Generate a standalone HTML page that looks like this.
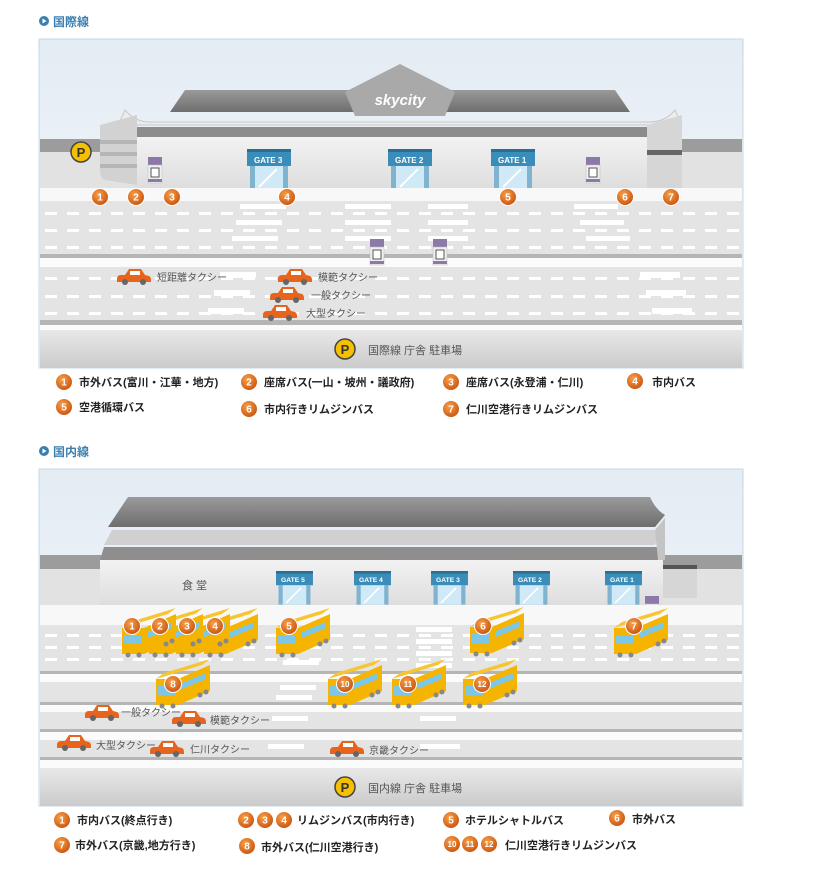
<!DOCTYPE html>
<html><head><meta charset="utf-8"><style>
html,body{margin:0;padding:0;background:#fff;}
svg{display:block;font-family:"Liberation Sans","Noto Sans CJK JP",sans-serif;}
.lg{font-size:11px;fill:#222;font-weight:bold;}
.tx{font-size:10px;fill:#555;}
.gt{font-size:8px;fill:#fff;font-weight:bold;}
.nm{font-size:10px;fill:#fff;font-weight:bold;text-anchor:middle;}
</style></head><body>
<svg width="817" height="888" viewBox="0 0 817 888" xmlns="http://www.w3.org/2000/svg">
<defs>
<linearGradient id="sky" x1="0" y1="0" x2="0" y2="1"><stop offset="0" stop-color="#e4ecf4"/><stop offset="1" stop-color="#f6f8fa"/></linearGradient>
<linearGradient id="park" x1="0" y1="0" x2="0" y2="1"><stop offset="0" stop-color="#e8e8e8"/><stop offset="1" stop-color="#cbcbcb"/></linearGradient>
<linearGradient id="roof" x1="0" y1="0" x2="0" y2="1"><stop offset="0" stop-color="#9a9a9a"/><stop offset="1" stop-color="#6e6e6e"/></linearGradient>
<linearGradient id="wall" x1="0" y1="0" x2="0" y2="1"><stop offset="0" stop-color="#f2f2f2"/><stop offset="1" stop-color="#dedede"/></linearGradient>
<radialGradient id="ob" cx="0.4" cy="0.35" r="0.7"><stop offset="0" stop-color="#f7a04a"/><stop offset="1" stop-color="#c8500c"/></radialGradient>
<g id="num"><circle r="8.5" fill="url(#ob)" stroke="#fff" stroke-width="1"/></g>
<g id="gate"><rect x="0" y="0" width="44" height="17" fill="#3a8db8"/><rect x="0" y="0" width="44" height="3" fill="#2a6f93"/><rect x="3" y="17" width="38" height="23" fill="#7fb3cf"/><rect x="8" y="17" width="28" height="23" fill="#cfe9f6"/><line x1="12" y1="38" x2="30" y2="20" stroke="#fff" stroke-width="2"/></g>
<g id="kiosk"><rect x="0" y="0" width="14" height="8" fill="#8d79a8"/><rect x="0" y="8" width="14" height="18" fill="#efefef" stroke="#bbb" stroke-width="0.5"/><rect x="3" y="11" width="8" height="9" fill="#fff" stroke="#555" stroke-width="1"/><rect x="0" y="22" width="14" height="3" fill="#8d79a8"/></g>
<g id="car"><path d="M0 10 Q0 6 4 6 L8 6 L12 0 L24 0 L28 6 L32 7 Q34 8 34 11 L34 13 L0 13 Z" fill="#e8641c"/><rect x="13" y="2" width="10" height="4" fill="#fff"/><circle cx="8" cy="13" r="3" fill="#666"/><circle cx="26" cy="13" r="3" fill="#666"/></g>
<g id="bus"><polygon points="0,6 8,0 54,-14 46,-8" fill="#f7c531"/><polygon points="22,6 54,-8 54,18 22,32" fill="#f5b400"/><polygon points="26,10 50,0 50,6 26,16" fill="#7cc6e8"/><rect x="0" y="6" width="22" height="26" fill="#f5b400"/><rect x="2" y="13" width="18" height="9" fill="#7cc6e8"/><circle cx="6" cy="33" r="2.5" fill="#888"/><circle cx="17" cy="33" r="2.5" fill="#888"/><circle cx="44" cy="22" r="2.5" fill="#888"/><circle cx="50" cy="19" r="2.5" fill="#888"/></g>
</defs>

<!-- ===== PANEL 1 ===== -->
<circle cx="44" cy="21" r="5" fill="#3b7fb0"/><polygon points="42.5,18.5 42.5,23.5 46.5,21" fill="#fff"/>
<text x="53" y="26" font-size="12" fill="#3b7fb0" font-weight="bold">国際線</text>
<rect x="39" y="39" width="704" height="329" fill="url(#sky)" stroke="#c6d8e6" stroke-width="1"/>
<rect x="40" y="139" width="702" height="13" fill="#9c9c9c"/>
<rect x="40" y="152" width="702" height="36" fill="#e2e2e2"/>
<polygon points="170,112 185,90 615,90 630,112" fill="url(#roof)"/>
<polygon points="345,92 400,64 455,92 445,116 355,116" fill="#a9a9a9"/>
<text x="400" y="105" font-size="15" font-style="italic" font-weight="bold" fill="#fff" text-anchor="middle">skycity</text>
<path d="M125 110 Q135 122 150 122 L650 122 Q665 122 675 110 L682 125 L118 125 Z" fill="#ececec" stroke="#c8c8c8"/>
<rect x="135" y="127" width="512" height="10" fill="#8c8c8c"/>
<rect x="135" y="137" width="512" height="51" fill="url(#wall)"/>
<path d="M100 125 L137 115 L137 185 L105 180 Q100 178 100 170 Z" fill="#d2d2d2"/>
<rect x="100" y="140" width="37" height="4" fill="#b6b6b6"/><rect x="100" y="152" width="37" height="4" fill="#b6b6b6"/><rect x="100" y="164" width="37" height="4" fill="#b6b6b6"/>
<path d="M647 125 L682 115 L682 188 L647 188 Z" fill="#d6d6d6"/><rect x="647" y="150" width="35" height="5" fill="#666"/>
<use href="#gate" x="247" y="149"/><text class="gt" x="254" y="163">GATE 3</text>
<use href="#gate" x="388" y="149"/><text class="gt" x="395" y="163">GATE 2</text>
<use href="#gate" x="491" y="149"/><text class="gt" x="498" y="163">GATE 1</text>
<use href="#kiosk" x="148" y="157"/><use href="#kiosk" x="586" y="157"/>
<circle cx="81" cy="152" r="10" fill="#f5c000" stroke="#444" stroke-width="1.5"/><text x="81" y="157" font-size="13" font-weight="bold" fill="#333" text-anchor="middle">P</text>
<rect x="40" y="188" width="702" height="13" fill="#f8f8f8"/>
<rect x="40" y="201" width="702" height="53" fill="#e4e4e4"/>
<line x1="45" y1="213.5" x2="740" y2="213.5" stroke="#fff" stroke-width="3" stroke-dasharray="12 10"/>
<line x1="45" y1="230.5" x2="740" y2="230.5" stroke="#fff" stroke-width="3" stroke-dasharray="12 10"/>
<line x1="45" y1="247.5" x2="740" y2="247.5" stroke="#fff" stroke-width="3" stroke-dasharray="12 10"/>
<g fill="#fff">
<rect x="240" y="204" width="46" height="5"/><rect x="236" y="220" width="46" height="5"/><rect x="232" y="236" width="46" height="5"/>
<rect x="345" y="204" width="46" height="5"/><rect x="345" y="220" width="46" height="5"/><rect x="345" y="236" width="46" height="5"/>
<rect x="428" y="204" width="40" height="5"/><rect x="428" y="220" width="40" height="5"/><rect x="428" y="236" width="40" height="5"/>
<rect x="574" y="204" width="44" height="5"/><rect x="580" y="220" width="44" height="5"/><rect x="586" y="236" width="44" height="5"/>
</g>
<rect x="40" y="254" width="702" height="4" fill="#b5b5b5"/>
<rect x="40" y="258" width="702" height="9" fill="#fbfbfb"/>
<rect x="40" y="267" width="702" height="53" fill="#e4e4e4"/>
<line x1="45" y1="278.5" x2="740" y2="278.5" stroke="#fff" stroke-width="3" stroke-dasharray="12 10"/>
<line x1="45" y1="296.5" x2="740" y2="296.5" stroke="#fff" stroke-width="3" stroke-dasharray="12 10"/>
<line x1="45" y1="313.5" x2="740" y2="313.5" stroke="#fff" stroke-width="3" stroke-dasharray="12 10"/>
<g fill="#fff">
<rect x="220" y="272" width="36" height="6"/><rect x="214" y="290" width="36" height="6"/><rect x="208" y="308" width="36" height="6"/>
<rect x="640" y="272" width="40" height="6"/><rect x="646" y="290" width="40" height="6"/><rect x="652" y="308" width="40" height="6"/>
</g>
<use href="#kiosk" x="370" y="239"/><use href="#kiosk" x="433" y="239"/>
<rect x="40" y="320" width="702" height="5" fill="#b5b5b5"/>
<rect x="40" y="325" width="702" height="5" fill="#fbfbfb"/>
<rect x="40" y="330" width="702" height="38" fill="url(#park)"/>
<circle cx="345" cy="349" r="10" fill="#f5c000" stroke="#444" stroke-width="1.5"/><text x="345" y="354" font-size="13" font-weight="bold" fill="#333" text-anchor="middle">P</text>
<text x="368" y="354" font-size="11" fill="#555">国際線 庁舎 駐車場</text>
<use href="#car" x="117" y="269"/><text class="tx" x="157" y="281">短距離タクシー</text>
<use href="#car" x="278" y="269"/><text class="tx" x="318" y="281">模範タクシー</text>
<use href="#car" x="270" y="287"/><text class="tx" x="311" y="299">一般タクシー</text>
<use href="#car" x="263" y="305"/><text class="tx" x="306" y="317">大型タクシー</text>
<use href="#num" x="100" y="197"/><text class="nm" x="100" y="200.5">1</text>
<use href="#num" x="136" y="197"/><text class="nm" x="136" y="200.5">2</text>
<use href="#num" x="172" y="197"/><text class="nm" x="172" y="200.5">3</text>
<use href="#num" x="287" y="197"/><text class="nm" x="287" y="200.5">4</text>
<use href="#num" x="508" y="197"/><text class="nm" x="508" y="200.5">5</text>
<use href="#num" x="625" y="197"/><text class="nm" x="625" y="200.5">6</text>
<use href="#num" x="671" y="197"/><text class="nm" x="671" y="200.5">7</text>
<use href="#num" x="64" y="382"/><text class="nm" x="64" y="385.5">1</text><text class="lg" x="79" y="386">市外バス(富川・江華・地方)</text>
<use href="#num" x="249" y="382"/><text class="nm" x="249" y="385.5">2</text><text class="lg" x="264" y="386">座席バス(一山・坡州・議政府)</text>
<use href="#num" x="451" y="382"/><text class="nm" x="451" y="385.5">3</text><text class="lg" x="466" y="386">座席バス(永登浦・仁川)</text>
<use href="#num" x="635" y="381"/><text class="nm" x="635" y="384.5">4</text><text class="lg" x="652" y="386">市内バス</text>
<use href="#num" x="64" y="407"/><text class="nm" x="64" y="410.5">5</text><text class="lg" x="79" y="411">空港循環バス</text>
<use href="#num" x="249" y="409"/><text class="nm" x="249" y="412.5">6</text><text class="lg" x="264" y="413">市内行きリムジンバス</text>
<use href="#num" x="451" y="409"/><text class="nm" x="451" y="412.5">7</text><text class="lg" x="466" y="413">仁川空港行きリムジンバス</text>

<!-- ===== PANEL 2 ===== -->
<circle cx="44" cy="451" r="5" fill="#3b7fb0"/><polygon points="42.5,448.5 42.5,453.5 46.5,451" fill="#fff"/>
<text x="53" y="456" font-size="12" fill="#3b7fb0" font-weight="bold">国内線</text>
<rect x="39" y="469" width="704" height="337" fill="url(#sky)" stroke="#c6d8e6" stroke-width="1"/>
<rect x="40" y="555" width="702" height="14" fill="#9c9c9c"/>
<rect x="40" y="569" width="702" height="36" fill="#e2e2e2"/>
<path d="M108 527 Q118 512 128 497 L650 497 Q656 510 665 515 L655 527 Z" fill="url(#roof)"/>
<polygon points="104,545 112,530 662,530 655,545" fill="#d0d0d0"/>
<polygon points="100,560 104,547 658,547 663,560" fill="#8e8e8e"/>
<polygon points="655,530 665,518 665,560 658,560" fill="#c4c4c4"/>
<rect x="100" y="560" width="563" height="45" fill="url(#wall)"/>
<rect x="663" y="565" width="34" height="33" fill="#d6d6d6"/><rect x="663" y="565" width="34" height="4" fill="#555"/>
<text x="182" y="589" font-size="11" fill="#555">食 堂</text>
<g transform="translate(276 571) scale(0.84 0.84)"><use href="#gate"/><text class="gt" x="6" y="13">GATE 5</text></g>
<g transform="translate(354 571) scale(0.84 0.84)"><use href="#gate"/><text class="gt" x="6" y="13">GATE 4</text></g>
<g transform="translate(431 571) scale(0.84 0.84)"><use href="#gate"/><text class="gt" x="6" y="13">GATE 3</text></g>
<g transform="translate(513 571) scale(0.84 0.84)"><use href="#gate"/><text class="gt" x="6" y="13">GATE 2</text></g>
<g transform="translate(605 571) scale(0.84 0.84)"><use href="#gate"/><text class="gt" x="6" y="13">GATE 1</text></g>
<use href="#kiosk" x="645" y="596"/>
<rect x="40" y="605" width="702" height="20" fill="#f8f8f8"/>
<rect x="40" y="625" width="702" height="46" fill="#e4e4e4"/>
<line x1="45" y1="635.5" x2="740" y2="635.5" stroke="#fff" stroke-width="3" stroke-dasharray="12 10"/>
<line x1="45" y1="647.5" x2="740" y2="647.5" stroke="#fff" stroke-width="3" stroke-dasharray="12 10"/>
<line x1="45" y1="659.5" x2="740" y2="659.5" stroke="#fff" stroke-width="3" stroke-dasharray="12 10"/>
<rect x="40" y="671" width="702" height="3" fill="#b5b5b5"/>
<rect x="40" y="674" width="702" height="8" fill="#fbfbfb"/>
<rect x="40" y="682" width="702" height="20" fill="#e4e4e4"/>
<rect x="40" y="702" width="702" height="3" fill="#b5b5b5"/>
<rect x="40" y="705" width="702" height="7" fill="#fbfbfb"/>
<rect x="40" y="712" width="702" height="17" fill="#e4e4e4"/>
<rect x="40" y="729" width="702" height="3" fill="#b5b5b5"/>
<rect x="40" y="732" width="702" height="8" fill="#fbfbfb"/>
<rect x="40" y="740" width="702" height="17" fill="#e4e4e4"/>
<rect x="40" y="757" width="702" height="3" fill="#b5b5b5"/>
<rect x="40" y="760" width="702" height="8" fill="#fbfbfb"/>
<g fill="#fff">
<rect x="416" y="627" width="36" height="5"/><rect x="416" y="639" width="36" height="5"/><rect x="416" y="651" width="36" height="5"/><rect x="416" y="663" width="36" height="5"/>
<rect x="283" y="660" width="36" height="5"/><rect x="280" y="685" width="36" height="5"/><rect x="276" y="695" width="36" height="5"/><rect x="272" y="716" width="36" height="5"/><rect x="268" y="744" width="36" height="5"/>
<rect x="420" y="716" width="36" height="5"/><rect x="420" y="744" width="40" height="5"/>
</g>
<rect x="40" y="768" width="702" height="38" fill="url(#park)"/>
<circle cx="345" cy="787" r="10" fill="#f5c000" stroke="#444" stroke-width="1.5"/><text x="345" y="792" font-size="13" font-weight="bold" fill="#333" text-anchor="middle">P</text>
<text x="368" y="792" font-size="11" fill="#555">国内線 庁舎 駐車場</text>
<use href="#bus" x="204" y="622"/>
<use href="#bus" x="176" y="622"/>
<use href="#bus" x="149" y="622"/>
<use href="#bus" x="122" y="622"/>
<use href="#bus" x="276" y="622"/>
<use href="#bus" x="470" y="621"/>
<use href="#bus" x="614" y="622"/>
<use href="#bus" x="156" y="673"/>
<use href="#bus" x="328" y="673"/>
<use href="#bus" x="392" y="673"/>
<use href="#bus" x="463" y="673"/>
<use href="#num" x="132" y="626"/><text class="nm" x="132" y="629.5">1</text>
<use href="#num" x="160" y="626"/><text class="nm" x="160" y="629.5">2</text>
<use href="#num" x="187" y="626"/><text class="nm" x="187" y="629.5">3</text>
<use href="#num" x="215" y="626"/><text class="nm" x="215" y="629.5">4</text>
<use href="#num" x="289" y="626"/><text class="nm" x="289" y="629.5">5</text>
<use href="#num" x="483" y="626"/><text class="nm" x="483" y="629.5">6</text>
<use href="#num" x="634" y="626"/><text class="nm" x="634" y="629.5">7</text>
<use href="#num" x="173" y="684"/><text class="nm" x="173" y="687.5">8</text>
<use href="#num" x="345" y="684"/><text class="nm" x="345" y="687" style="font-size:8px">10</text>
<use href="#num" x="408" y="684"/><text class="nm" x="408" y="687" style="font-size:8px">11</text>
<use href="#num" x="482" y="684"/><text class="nm" x="482" y="687" style="font-size:8px">12</text>
<use href="#car" x="85" y="705"/><text class="tx" x="121" y="716">一般タクシー</text>
<use href="#car" x="172" y="711"/><text class="tx" x="210" y="724">模範タクシー</text>
<use href="#car" x="57" y="735"/><text class="tx" x="96" y="749">大型タクシー</text>
<use href="#car" x="150" y="741"/><text class="tx" x="190" y="753">仁川タクシー</text>
<use href="#car" x="330" y="741"/><text class="tx" x="369" y="754">京畿タクシー</text>
<use href="#num" x="62" y="820"/><text class="nm" x="62" y="823.5">1</text><text class="lg" x="77" y="824">市内バス(終点行き)</text>
<use href="#num" x="246" y="820"/><text class="nm" x="246" y="823.5">2</text>
<use href="#num" x="265" y="820"/><text class="nm" x="265" y="823.5">3</text>
<use href="#num" x="284" y="820"/><text class="nm" x="284" y="823.5">4</text><text class="lg" x="297" y="824">リムジンバス(市内行き)</text>
<use href="#num" x="451" y="820"/><text class="nm" x="451" y="823.5">5</text><text class="lg" x="465" y="824">ホテルシャトルバス</text>
<use href="#num" x="617" y="818"/><text class="nm" x="617" y="821.5">6</text><text class="lg" x="632" y="823">市外バス</text>
<use href="#num" x="62" y="845"/><text class="nm" x="62" y="848.5">7</text><text class="lg" x="75" y="849">市外バス(京畿,地方行き)</text>
<use href="#num" x="247" y="846"/><text class="nm" x="247" y="849.5">8</text><text class="lg" x="261" y="851">市外バス(仁川空港行き)</text>
<use href="#num" x="452" y="844"/><text class="nm" x="452" y="847" style="font-size:8px">10</text>
<use href="#num" x="470" y="844"/><text class="nm" x="470" y="847" style="font-size:8px">11</text>
<use href="#num" x="489" y="844"/><text class="nm" x="489" y="847" style="font-size:8px">12</text><text class="lg" x="505" y="849">仁川空港行きリムジンバス</text>
</svg>
</body></html>
